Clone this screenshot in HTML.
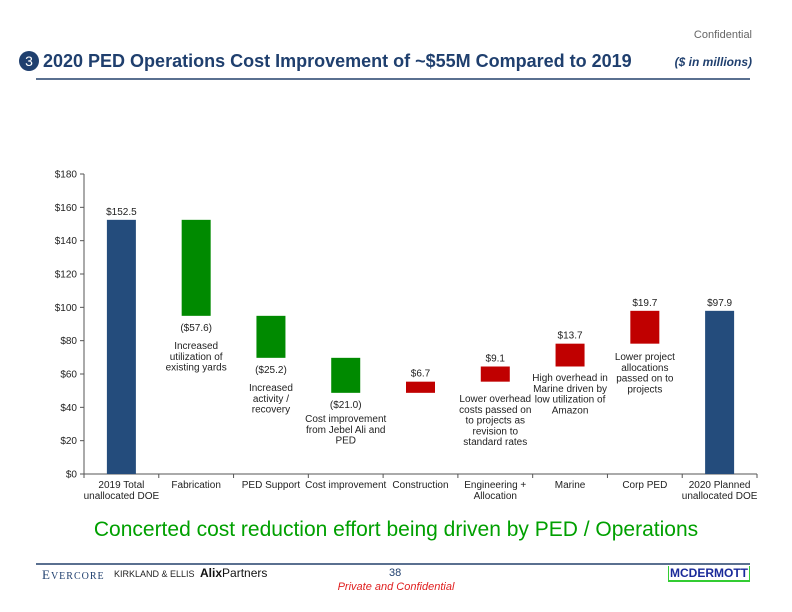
<!DOCTYPE html>
<html><head><meta charset="utf-8"><style>
body{margin:0;width:792px;height:612px;background:#fff;font-family:"Liberation Sans",sans-serif;overflow:hidden;position:relative}
.abs{position:absolute}
</style></head><body>
<div class="abs" style="right:40px;top:29px;font-size:11px;color:#666">Confidential</div>
<div class="abs" style="left:19px;top:51px;width:20px;height:20px;border-radius:50%;background:#1f3f6e;color:#fff;font-size:14px;text-align:center;line-height:20px">3</div>
<div class="abs" style="left:43px;top:51px;font-size:18px;font-weight:bold;color:#1f3f6e;white-space:nowrap">2020 PED Operations Cost Improvement of ~$55M Compared to 2019</div>
<div class="abs" style="right:40px;top:55px;font-size:12px;font-weight:bold;font-style:italic;color:#1f3f6e">($ in millions)</div>
<div class="abs" style="left:36px;top:78px;width:714px;height:2px;background:#5a7090"></div>

<svg class="abs" style="left:0;top:0" width="792" height="612" id="chart"></svg>

<div class="abs" style="left:0;width:792px;top:518px;text-align:center;font-size:21px;color:#00a000">Concerted cost reduction effort being driven by PED / Operations</div>
<div class="abs" style="left:36px;top:563px;width:714px;height:2px;background:#5a7090"></div>
<div class="abs" style="left:42px;top:567px;font-family:'Liberation Serif',serif;font-size:13px;color:#1f3f6e;letter-spacing:1px">E<span style="font-size:10px">VERCORE</span></div>
<div class="abs" style="left:114px;top:569px;font-size:9px;color:#222">KIRKLAND &amp; ELLIS</div>
<div class="abs" style="left:200px;top:566px;font-size:12px;color:#111"><b>Alix</b>Partners</div>
<div class="abs" style="left:389px;top:567px;font-size:11px;color:#1f3f6e">38</div>
<div class="abs" style="left:0;width:792px;top:581px;text-align:center;font-size:11px;font-style:italic;color:#e02020">Private and Confidential</div>
<div class="abs" style="left:668px;top:566px;font-size:12px;font-weight:bold;color:#1a2a9a;border-bottom:2px solid #3c3;border-left:1px solid #3c3;border-right:1px solid #3c3;padding:0 1px">MCDERMOTT</div>

<script>
const categories=[["2019 Total","unallocated DOE"],["Fabrication"],["PED Support"],["Cost improvement"],["Construction"],["Engineering +","Allocation"],["Marine"],["Corp PED"],["2020 Planned","unallocated DOE"]];
const deltas=[152.5,-57.6,-25.2,-21.0,6.7,9.1,13.7,19.7,97.9];
const kinds=["total","delta","delta","delta","delta","delta","delta","delta","total"];
const valueLabels=["$152.5","($57.6)","($25.2)","($21.0)","$6.7","$9.1","$13.7","$19.7","$97.9"];
const yTicks=[0,20,40,60,80,100,120,140,160,180];
const notes=[[],["Increased","utilization of","existing yards"],["Increased","activity /","recovery"],["Cost improvement","from Jebel Ali and","PED"],[],["Lower overhead","costs passed on","to projects as","revision to","standard rates"],["High overhead in","Marine driven by","low utilization of","Amazon"],["Lower project","allocations","passed on to","projects"],[]];
const noteTop=[0,349,391,422,0,402,381,360,0];

const svg=document.getElementById('chart');const NS='http://www.w3.org/2000/svg';
const x0=84,x1=757,y0=474,yTop=174,vmax=180;
const y=v=>y0-(v/vmax)*(y0-yTop);
const bw=(x1-x0)/categories.length;
const cx=i=>x0+bw*(i+0.5);
function el(t,a,txt){const e=document.createElementNS(NS,t);for(const k in a)e.setAttribute(k,a[k]);if(txt!=null)e.textContent=txt;svg.appendChild(e);return e;}
let e=el('line',{x1:x0,y1:yTop,x2:x0,y2:y0,stroke:'#555'});

e=el('line',{x1:x0,y1:y0,x2:x1,y2:y0,stroke:'#555'});

yTicks.forEach(t=>{
 let l=el('line',{x1:x0-4,y1:y(t),x2:x0,y2:y(t),stroke:'#555'});
 
 let tx=el('text',{x:x0-7,y:y(t)+3.5,'text-anchor':'end','font-size':10,fill:'#222'},'$'+t);
 
});
for(let i=0;i<=categories.length;i++){
 let l=el('line',{x1:x0+bw*i,y1:y0,x2:x0+bw*i,y2:y0+4,stroke:'#555'});
 
}
let run=0;const barW=29;
deltas.forEach((d,i)=>{
 let lo,hi,col;
 if(kinds[i]==='total'){lo=0;hi=d;run=d;col='#244c7c';}
 else{const n=run+d;lo=Math.min(run,n);hi=Math.max(run,n);run=n;col=d<0?'#008a00':'#c00000';}
 let r=el('rect',{x:cx(i)-barW/2,y:y(hi),width:barW,height:y(lo)-y(hi),fill:col});
 
 const ly=d<0?y(lo)+15:y(hi)-5;
 let t=el('text',{x:cx(i),y:ly,'text-anchor':'middle','font-size':10,fill:'#222'},valueLabels[i]);
 
 categories[i].forEach((s,k)=>{
  let c=el('text',{x:cx(i),y:y0+14+k*11,'text-anchor':'middle','font-size':10,fill:'#222'},s);
  
 });
 notes[i].forEach((s,k)=>{
  let n=el('text',{x:cx(i),y:noteTop[i]+k*10.8,'text-anchor':'middle','font-size':10,fill:'#222'},s);
  
 });
});
</script>
</body></html>
